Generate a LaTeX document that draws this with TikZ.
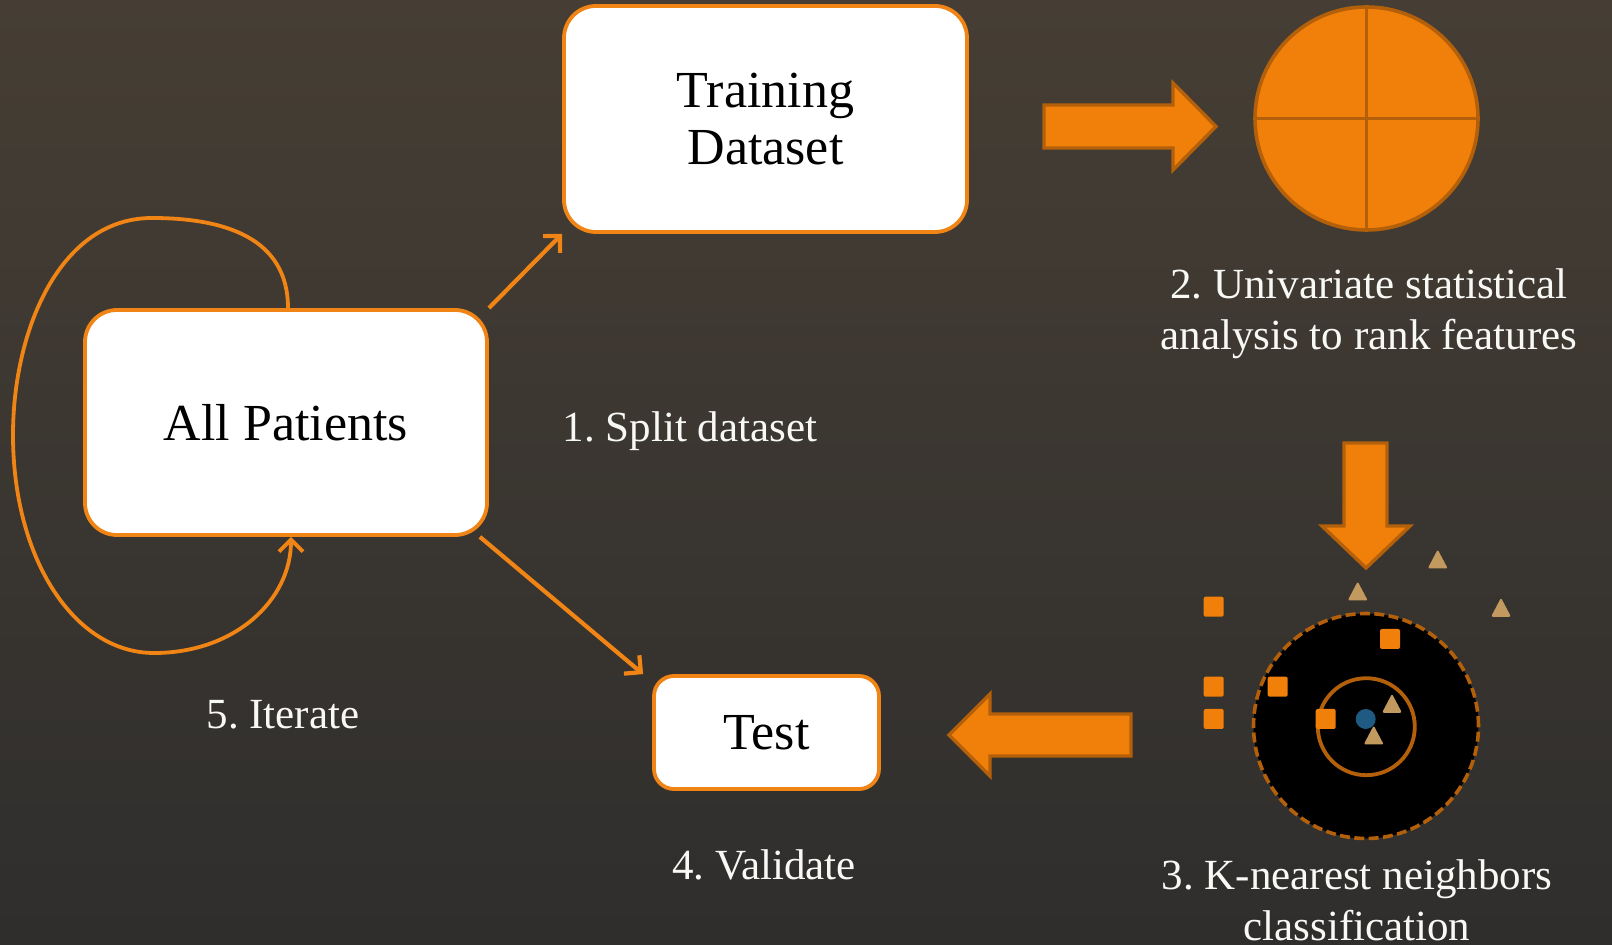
\documentclass[tikz,border=0pt]{standalone}
\usepackage{fontspec}
\setmainfont{Liberation Serif}
\usetikzlibrary{arrows.meta,calc}
\frenchspacing
\definecolor{bgtop}{RGB}{70,62,52}
\definecolor{bgbot}{RGB}{47,46,45}
\definecolor{orng}{RGB}{240,128,10}
\definecolor{orngline}{RGB}{240,132,20}
\definecolor{dorng}{RGB}{180,96,10}
\definecolor{tan}{RGB}{194,154,96}
\definecolor{dotblue}{RGB}{30,90,130}
\definecolor{txt}{RGB}{248,248,245}
\tikzset{
  box/.style={draw=orngline, line width=1.9pt, fill=white, rounded corners=16pt,
    align=center, text=black, font=\fontsize{26}{28.5}\selectfont, inner sep=0pt},
  conn/.style={draw=orngline, line width=2.1pt, -{Straight Barb[length=6pt,width=12pt,line width=2.1pt]}},
  loopline/.style={draw=orngline, line width=1.9pt, -{Straight Barb[length=6pt,width=12pt,line width=1.9pt]}},
  lbl/.style={text=txt, font=\fontsize{21.5}{25.5}\selectfont, align=center, inner sep=0pt},
  blockarrow/.style={fill=orng, draw=dorng, line width=1.7pt, line join=miter},
  sq/.style={fill=orng, rounded corners=1pt},
  tri/.style={fill=tan, rounded corners=1pt},
}
\begin{document}
\begin{tikzpicture}[x=0.5pt,y=-0.5pt]
\useasboundingbox (0,0) rectangle (1612,945);
\shade[top color=bgtop, bottom color=bgbot] (0,0) rectangle (1612,945);

% boxes
\node[box, minimum width=201pt, minimum height=112.5pt] (ap) at (286,422.5) {All Patients};
\node[box, minimum width=201.5pt, minimum height=113pt] (td) at (765.5,119) {Training\\Dataset};
\node[box, rounded corners=10pt, minimum width=112.5pt, minimum height=56.5pt] (te) at (766.5,732.5) {Test};

% connectors
\draw[conn] (ap.north east) -- (td.south west);
\draw[conn] ([xshift=-4.5pt]ap.south east) -- ([xshift=-4.5pt]te.north west);
\draw[loopline] ([xshift=1pt]ap.north) .. controls +(0,-70) and (225,218) .. (152,218)
  .. controls (60,218) and (13,330) .. (13,435)
  .. controls (13,560) and (75,653) .. (154,653)
  .. controls (235,653) and (291,600) .. ([xshift=2.5pt]ap.south);

% labels
\node[lbl, anchor=base] (l1) at (690,442) {1. Split dataset};
\node[lbl] (l2) at (1369,314) {2. Univariate statistical\\analysis to rank features};
\node[lbl] (l3) at (1357,900) {3. K-nearest neighbors\\classification};
\node[lbl, anchor=base] (l4) at (764,879) {4. Validate};
\node[lbl, anchor=base] (l5) at (283,729) {5. Iterate};

% block arrows
\draw[blockarrow] (1044,105) -- (1173,105) -- (1173,83) -- (1216,126.5) -- (1173,170) -- (1173,148) -- (1044,148) -- cycle;
\draw[blockarrow] (1344,443) -- (1387,443) -- (1387,526) -- (1410,526) -- (1366,568) -- (1322,526) -- (1344,526) -- cycle;
\draw[blockarrow] (1131,714) -- (990,714) -- (990,694) -- (949,735) -- (990,776) -- (990,756) -- (1131,756) -- cycle;

% quartered circle
\node[circle, fill=orng, draw=dorng, line width=1.8pt, minimum size=111.5pt, inner sep=0pt, outer sep=0pt] (feat) at (1366.5,118.5) {};
\draw[dorng, line width=1.8pt] (feat.north) -- (feat.south);
\draw[dorng, line width=1.8pt] (feat.west) -- (feat.east);

% knn
\node[circle, fill=black, draw=dorng, line width=1.8pt, dash pattern=on 5pt off 2.2pt, minimum size=112.5pt, inner sep=0pt, outer sep=0pt] (knn) at (1366,726) {};
\node[circle, draw=dorng, line width=1.9pt, minimum size=48.5pt, inner sep=0pt] (inner) at (1366.3,726.7) {};
\fill[dotblue] (1365.7,719) circle[radius=5pt];
\foreach \cx/\cy in {1213.7/606.7, 1213.7/686.7, 1213.7/719, 1277.7/686.7, 1390/639, 1325.7/719}
  \path[sq] (\cx-10,\cy-10) rectangle (\cx+10,\cy+10);
\foreach \cx/\cy in {1437.7/559, 1357.7/591, 1501/607.3, 1392/703.3, 1373.7/735}
  \path[tri] (\cx,\cy-9.5) -- (\cx+10,\cy+9.5) -- (\cx-10,\cy+9.5) -- cycle;
\end{tikzpicture}
\end{document}
